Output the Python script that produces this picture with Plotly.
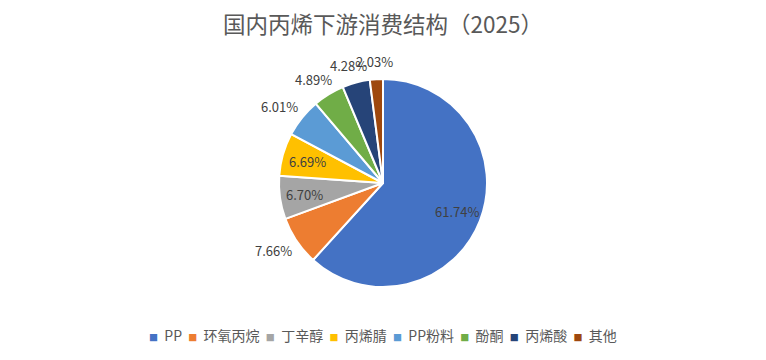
import math
import plotly.graph_objects as go

labels = ["PP", "环氧丙烷", "丁辛醇", "丙烯腈", "PP粉料", "酚酮", "丙烯酸", "其他"]
values = [61.74, 7.66, 6.70, 6.69, 6.01, 4.89, 4.28, 2.03]
text_labels = ["61.74%", "7.66%", "6.70%", "6.69%", "6.01%", "4.89%", "4.28%", "2.03%"]
colors = ["#4472C4", "#ED7D31", "#A5A5A5", "#FFC000", "#5B9BD5", "#70AD47", "#264478", "#9E480E"]
label_inside = [True, False, True, True, False, False, False, False]

font = "Noto Sans CJK SC, sans-serif"
W, H = 766, 360
# pie geometry (pixels)
CX, CY, R = 383.0, 183.0, 104.0
dom_y = [1 - (CY + R) / H, 1 - (CY - R) / H]

fig = go.Figure(go.Pie(
    labels=labels,
    values=values,
    textinfo="none",
    sort=False,
    direction="clockwise",
    rotation=0,
    marker=dict(colors=colors, line=dict(color="white", width=2)),
    domain=dict(x=[0, 1], y=dom_y),
    hoverinfo="label+percent",
    showlegend=False,
))

# data labels placed from the slice angles
total = sum(values)
cum = 0.0
annotations = []
tw, th, gap = 35.0, 13.0, 11.0
for v, t, inside in zip(values, text_labels, label_inside):
    mid = (cum + v / 2) / total * 2 * math.pi
    cum += v
    ux, uy = math.sin(mid), -math.cos(mid)
    if inside:
        px = CX + 0.76 * R * ux
        py = CY + 0.76 * R * uy
    else:
        px = CX + (R + gap) * ux + ux * tw / 2
        py = CY + (R + gap) * uy + uy * th / 2
    annotations.append(dict(
        x=px / W, y=1 - py / H, xref="paper", yref="paper",
        text=t, showarrow=False, xanchor="center", yanchor="middle",
        font=dict(family=font, size=13, color="#404040"),
    ))

# legend row
sep = "\u00a0" * 2
legend_text = sep.join(
    f'<span style="color:{c};font-size:9px">■</span>\u00a0\u00a0{l}'
    for l, c in zip(labels, colors)
)
annotations.append(dict(
    x=0.5, y=1 - 335 / H, xref="paper", yref="paper",
    text=legend_text, showarrow=False, xanchor="center", yanchor="middle",
    font=dict(family=font, size=14, color="#595959"),
))

fig.update_layout(
    width=W, height=H,
    margin=dict(l=0, r=0, t=0, b=0, autoexpand=False),
    paper_bgcolor="white",
    plot_bgcolor="white",
    title=dict(text="国内丙烯下游消费结构（2025）", x=0.5, xanchor="center",
               y=1 - 25 / H, yanchor="middle",
               font=dict(family=font, size=22.5, color="#595959")),
    annotations=annotations,
    showlegend=False,
)

fig.write_html("out.html", config={"displayModeBar": False},
               post_script="document.body.style.margin='0';")
